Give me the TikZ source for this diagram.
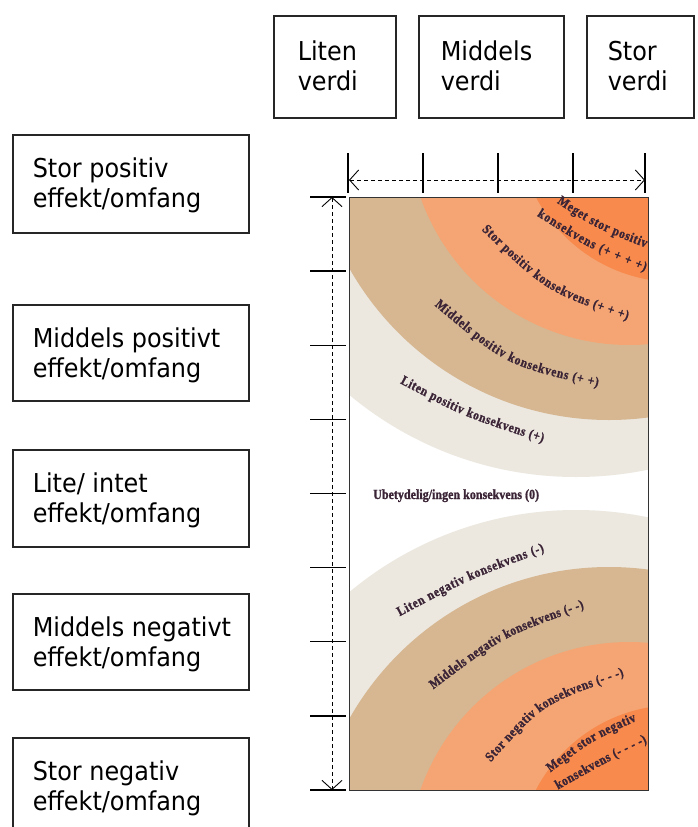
\documentclass[tikz,border=0pt]{standalone}
\usepackage{fontspec}
\setmainfont{DejaVu Sans}[FakeStretch=0.92]
\newfontfamily\serifb{Liberation Serif}[FakeStretch=0.86, BoldFeatures={FakeBold=1.2}]
\usetikzlibrary{arrows.meta,decorations.text}
\definecolor{dorange}{HTML}{F78A4C}
\definecolor{lorange}{HTML}{F5A573}
\definecolor{bandtan}{HTML}{D6B791}
\definecolor{bandgray}{HTML}{ECE8E0}
\definecolor{txtc}{HTML}{3A2436}
\newcommand{\btxt}[3]{\begin{tabular}[t]{@{\hspace{#1}}p{#2}@{}}#3\end{tabular}}
\newcommand{\curvefmt}{\serifb\bfseries\fontsize{3.375}{4}\selectfont\color{txtc}}
\begin{document}
\begin{tikzpicture}[x=1pt,y=1pt,
  ebox/.style 2 args={draw=black!85, line width=1.5pt, inner sep=0pt, anchor=north west,
    text height=#1, text depth=#2, font=\fontsize{26}{30}\selectfont},
  tickline/.style={line width=1.3pt, black},
  dimline/.style={line width=0.9pt, black, dash pattern=on 4pt off 3pt,
    {Straight Barb[length=9pt,width=20pt]}-{Straight Barb[length=9pt,width=20pt]}},
  curvelab/.style={decorate, decoration={text along path, raise=-0.75pt,
    text align={fit to path}, text={|\curvefmt|#1}}}
]
\useasboundingbox (0,0) rectangle (697,-827);

% top value boxes
\node[ebox={45pt}{57pt}] (v1) at (273,-15) {\btxt{24pt}{98pt}{Liten\newline verdi}};
\node[ebox={45pt}{57pt}] (v2) at (418,-15) {\btxt{22pt}{123pt}{Middels\newline verdi}};
\node[ebox={45pt}{57pt}] (v3) at (586,-15) {\btxt{21pt}{86pt}{Stor\newline verdi}};

% left effect boxes
\node[ebox={43pt}{55pt}] (e1) at (12,-134) {\btxt{20pt}{216pt}{Stor positiv\newline effekt/omfang}};
\node[ebox={43pt}{53pt}] (e2) at (12,-304) {\btxt{20pt}{216pt}{Middels positivt\newline effekt/omfang}};
\node[ebox={43pt}{54pt}] (e3) at (12,-449) {\btxt{20pt}{216pt}{Lite/ intet\newline effekt/omfang}};
\node[ebox={43pt}{53pt}] (e4) at (12,-593) {\btxt{20pt}{216pt}{Middels negativt\newline effekt/omfang}};
\node[ebox={43pt}{67pt}] (e5) at (12,-737) {\btxt{20pt}{216pt}{Stor negativ\newline effekt/omfang}};

% coloured bands
\coordinate (pSW) at (349,-790);
\coordinate (pNE) at (648,-197);
\begin{scope}
  \clip (pSW) rectangle (pNE);
  \fill[white] (pSW) rectangle (pNE);
  \fill[bandgray] (576,-123) circle[radius=354];
  \fill[bandtan]  (609,-122) circle[radius=298];
  \fill[lorange]  (629,-124) circle[radius=221];
  \fill[dorange]  (676,-124) circle[radius=158];
  \fill[bandgray] (576,-864) circle[radius=354];
  \fill[bandtan]  (609,-865) circle[radius=298];
  \fill[lorange]  (629,-863) circle[radius=221];
  \fill[dorange]  (676,-863) circle[radius=158];
\end{scope}
\node[draw=black!80, line width=0.8pt, minimum width=299pt, minimum height=593pt, inner sep=0pt] (panel) at (498.5,-493.5) {};

% dimension lines
\coordinate (hL) at (349,-180);
\coordinate (hR) at (645,-180);
\coordinate (vT) at (332,-197);
\coordinate (vB) at (332,-790);
\draw[dimline] (hL) -- (hR);
\draw[dimline] (vT) -- (vB);
\foreach \x in {348,423,498,573,645} \draw[tickline] (\x,-153) -- (\x,-193);
\foreach \i in {0,...,8} \draw[tickline] (310,{-197-74.125*\i}) -- (346,{-197-74.125*\i});

% labels
\node[anchor=base west, inner sep=0pt, text=txtc, font=\serifb\bfseries\fontsize{14}{16}\selectfont] (ubet) at (373,-499) {Ubetydelig/ingen konsekvens (0)};
\begin{scope}[transform canvas={scale=4}, x=0.25pt, y=0.25pt]
\path[curvelab={Meget stor positiv}] (558.4,-200.2) .. controls (595.2,-224.5) .. (646.6,-244.8);
\path[curvelab={konsekvens (+ + + +)}] (538.4,-213.2) .. controls (589.3,-245.05) .. (646,-268.5);
\path[curvelab={Stor positiv konsekvens (+ + +)}] (483.6,-227.9) .. controls (548,-289.2) .. (628.4,-317.1);
\path[curvelab={Middels positiv konsekvens (+ +)}] (436.4,-303.2) .. controls (507.5,-362.8) .. (598.6,-383.8);
\path[curvelab={Liten positiv konsekvens (+)}] (401.3,-380.5) .. controls (465.2,-414) .. (543.7,-439.5);
\path[curvelab={Liten negativ konsekvens (-)}] (398.3,-613.6) .. controls (467,-577) .. (543.7,-548.4);
\path[curvelab={Middels negativ konsekvens (- -)}] (431.5,-686.9) .. controls (501.5,-634) .. (583.5,-605.1);
\path[curvelab={Stor negativ konsekvens (- - -)}] (488.6,-760.2) .. controls (541.3,-701.2) .. (623.4,-672.8);
\path[curvelab={Meget stor negativ}] (548.6,-770) .. controls (589.3,-738.7) .. (635.4,-718);
\path[curvelab={konsekvens (- - - -)}] (556.5,-786.9) .. controls (606.25,-758.9) .. (646,-739.5);
\end{scope}
\end{tikzpicture}
\end{document}
